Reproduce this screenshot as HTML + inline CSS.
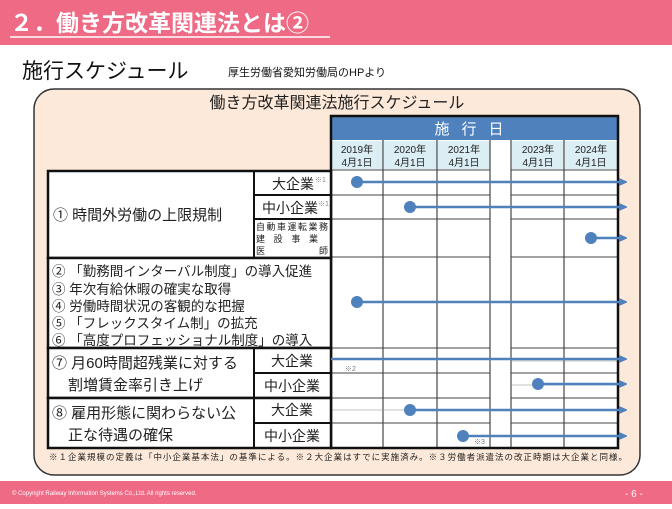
<!DOCTYPE html>
<html><head><meta charset="utf-8"><style>
body{margin:0;width:672px;height:504px;overflow:hidden;background:#fff;font-family:"Liberation Sans","Noto Sans CJK JP",sans-serif}
svg text{font-family:"Liberation Sans","Noto Sans CJK JP",sans-serif}
</style></head><body>
<svg width="672" height="504" viewBox="0 0 672 504" xmlns="http://www.w3.org/2000/svg">
<rect x="0" y="0" width="672" height="45" fill="#ee6a85"/>
<text x="10" y="31" font-size="23" font-weight="bold" fill="#fff">２．働き方改革関連法とは②</text>
<line x1="10" y1="37" x2="330" y2="37" stroke="#fff" stroke-width="1.5"/>
<text x="22" y="78" font-size="21" fill="#111">施行スケジュール</text>
<text x="228" y="76" font-size="11" fill="#111">厚生労働省愛知労働局のHPより</text>
<rect x="34" y="89" width="606" height="386" rx="20" fill="#fde9d9" stroke="#333" stroke-width="1.5"/>
<text x="337" y="108" font-size="16" fill="#222" text-anchor="middle">働き方改革関連法施行スケジュール</text>
<rect x="331" y="116" width="287" height="332" fill="#fff"/>
<rect x="331" y="116" width="287" height="24" fill="#4f81bd"/>
<text x="475" y="134" font-size="15" fill="#fff" text-anchor="middle" letter-spacing="12">施行日</text>
<g fill="#dbeef4"><rect x="332" y="141" width="51" height="28"/><rect x="384" y="141" width="53" height="28"/><rect x="438" y="141" width="52" height="28"/><rect x="512" y="141" width="52" height="28"/><rect x="565" y="141" width="52" height="28"/></g>
<g font-size="10" fill="#222" text-anchor="middle">
<text x="357" y="153">2019年</text><text x="357" y="166">4月1日</text>
<text x="410" y="153">2020年</text><text x="410" y="166">4月1日</text>
<text x="464" y="153">2021年</text><text x="464" y="166">4月1日</text>
<text x="538" y="153">2023年</text><text x="538" y="166">4月1日</text>
<text x="591" y="153">2024年</text><text x="591" y="166">4月1日</text>
</g>
<g stroke="#222" stroke-width="1">
<line x1="383" y1="140" x2="383" y2="448"/><line x1="437" y1="140" x2="437" y2="448"/>
<line x1="490" y1="140" x2="490" y2="448"/><line x1="511" y1="140" x2="511" y2="448"/><line x1="564" y1="140" x2="564" y2="448"/>
</g>
<g stroke="#444" stroke-width="1">
<line x1="331" y1="170" x2="490" y2="170"/><line x1="511" y1="170" x2="618" y2="170"/>
<line x1="331" y1="195" x2="490" y2="195"/><line x1="511" y1="195" x2="618" y2="195"/>
<line x1="331" y1="219" x2="490" y2="219"/><line x1="511" y1="219" x2="618" y2="219"/>
<line x1="331" y1="257" x2="490" y2="257"/><line x1="511" y1="257" x2="618" y2="257"/>
<line x1="331" y1="348" x2="490" y2="348"/><line x1="511" y1="348" x2="618" y2="348"/>
<line x1="331" y1="373" x2="490" y2="373"/><line x1="511" y1="373" x2="618" y2="373"/>
<line x1="331" y1="398" x2="490" y2="398"/><line x1="511" y1="398" x2="618" y2="398"/>
<line x1="331" y1="423" x2="490" y2="423"/><line x1="511" y1="423" x2="618" y2="423"/>
</g>
<g stroke="#888" stroke-width="0.6">
<line x1="511" y1="361" x2="618" y2="361"/><line x1="511" y1="385" x2="618" y2="385"/><line x1="331" y1="410" x2="490" y2="410"/><line x1="511" y1="436" x2="618" y2="436"/>
</g>
<rect x="331" y="116" width="287" height="332" fill="none" stroke="#111" stroke-width="2.5"/>
<g fill="#fff" stroke="#111" stroke-width="2.5">
<rect x="48" y="171" width="283" height="87"/>
<rect x="48" y="258" width="283" height="90"/>
<rect x="48" y="348" width="283" height="50"/>
<rect x="48" y="398" width="283" height="50"/>
</g>
<g stroke="#111" stroke-width="2">
<line x1="254" y1="171" x2="254" y2="258"/><line x1="254" y1="195" x2="331" y2="195"/><line x1="254" y1="219" x2="331" y2="219"/>
<line x1="254" y1="348" x2="254" y2="448"/><line x1="254" y1="373" x2="331" y2="373"/><line x1="254" y1="423" x2="331" y2="423"/>
</g>
<g font-size="13" fill="#222">
<text x="53" y="220" font-size="15">① 時間外労働の上限規制</text>
<text x="272" y="189" font-size="14">大企業</text><text x="315" y="182" font-size="7" fill="#888">※1</text>
<text x="262" y="213" font-size="14">中小企業</text><text x="318" y="206" font-size="7" fill="#888">※1</text>
<text x="256" y="230" font-size="9" textLength="72">自動車運転業務</text>
<text x="256" y="242" font-size="9" textLength="72" letter-spacing="10">建設事業</text>
<text x="256" y="254" font-size="9">医</text><text x="319" y="254" font-size="9">師</text>
<text x="52" y="276" font-size="13.5">② 「勤務間インターバル制度」の導入促進</text>
<text x="52" y="294" font-size="13.5">③ 年次有給休暇の確実な取得</text>
<text x="52" y="311" font-size="13.5">④ 労働時間状況の客観的な把握</text>
<text x="52" y="328" font-size="13.5">⑤ 「フレックスタイム制」の拡充</text>
<text x="52" y="345" font-size="13.5">⑥ 「高度プロフェッショナル制度」の導入</text>
<text x="52" y="368" font-size="15">⑦ 月60時間超残業に対する</text>
<text x="68" y="390" font-size="15">割増賃金率引き上げ</text>
<text x="271" y="366" font-size="14">大企業</text><text x="264" y="391" font-size="14">中小企業</text>
<text x="52" y="418" font-size="15">⑧ 雇用形態に関わらない公</text>
<text x="68" y="440" font-size="15">正な待遇の確保</text>
<text x="271" y="415" font-size="14">大企業</text><text x="264" y="441" font-size="14">中小企業</text>
</g>
<defs><marker id="a" markerWidth="8" markerHeight="8" refX="1" refY="4" orient="auto" markerUnits="userSpaceOnUse"><path d="M0,0L9,4L0,8z" fill="#4f81bd"/></marker></defs>
<g stroke="#4f81bd" stroke-width="2.5" marker-end="url(#a)">
<line x1="357" y1="182" x2="620" y2="182"/>
<line x1="410" y1="207" x2="620" y2="207"/>
<line x1="591" y1="238" x2="620" y2="238"/>
<line x1="357" y1="302" x2="620" y2="302"/>
<line x1="331" y1="359" x2="620" y2="359"/>
<line x1="538" y1="384" x2="620" y2="384"/>
<line x1="410" y1="410" x2="620" y2="410"/>
<line x1="463" y1="436" x2="620" y2="436"/>
</g>
<g fill="#4f81bd">
<circle cx="357" cy="182" r="6"/><circle cx="410" cy="207" r="6"/><circle cx="591" cy="238" r="6"/><circle cx="357" cy="302" r="6"/>
<circle cx="538" cy="384" r="6"/><circle cx="410" cy="410" r="6"/><circle cx="463" cy="436" r="6"/>
</g>
<text x="345" y="371" font-size="7" fill="#777">※2</text>
<text x="474" y="444" font-size="7" fill="#777">※3</text>
<text x="49" y="460" font-size="8.5" fill="#222" textLength="578">※１企業規模の定義は「中小企業基本法」の基準による。※２大企業はすでに実施済み。※３労働者派遣法の改正時期は大企業と同様。</text>
<rect x="0" y="481" width="672" height="23" fill="#ee6a85"/>
<text x="12" y="495" font-size="6" fill="#fff">© Copyright Railway Information Systems Co.,Ltd.  All rights reserved.</text>
<text x="625" y="497" font-size="10" fill="#fff">- 6 -</text>
</svg>
</body></html>
